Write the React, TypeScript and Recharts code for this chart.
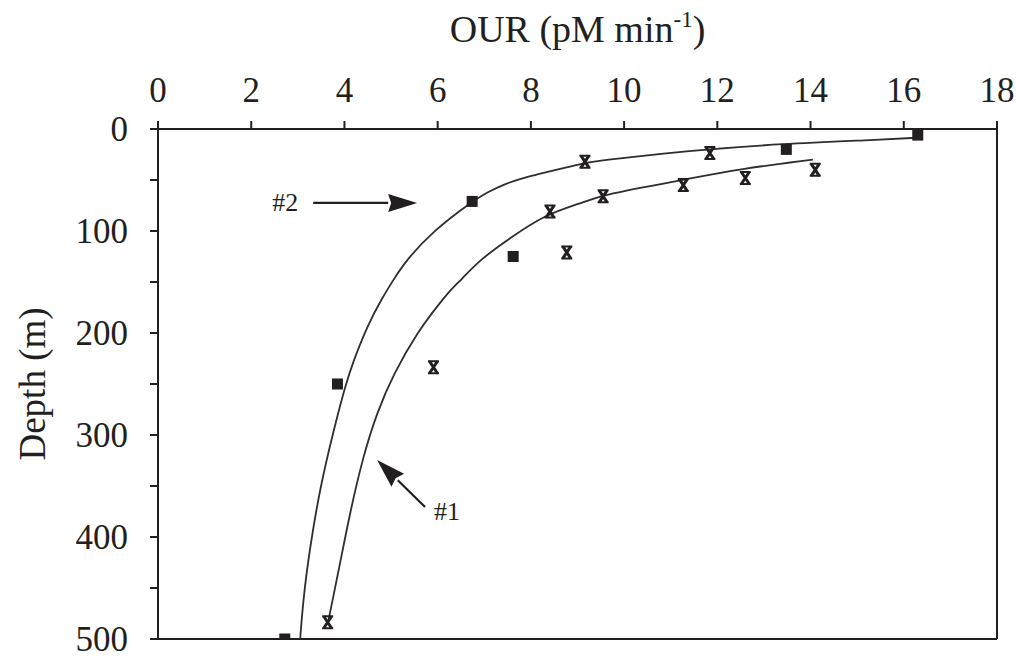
import React from 'react';
import { ComposedChart, XAxis, YAxis, Line, Scatter, ReferenceLine, ReferenceDot } from 'recharts';

// ---- axis ticks ----
const xTicks = [0, 2, 4, 6, 8, 10, 12, 14, 16, 18];
const yTicks = [0, 50, 100, 150, 200, 250, 300, 350, 400, 450, 500];

// ---- measured points (squares) ----
const squareOUR = [16.3, 13.48, 6.74, 7.62, 3.85, 2.72];
const squareDepth = [6, 20, 71, 125, 250, 500];

// ---- measured points (crosses) ----
const crossOUR = [11.84, 9.16, 14.1, 12.6, 11.27, 9.55, 8.41, 8.77, 5.91, 3.64];
const crossDepth = [23.5, 32, 40, 48, 55, 66, 81, 121, 233.6, 483.6];

// ---- fitted curve #1 ----
const curve1OUR = [3.66, 3.91, 4.12, 4.4, 4.69, 5.05, 5.6, 5.99, 6.27, 6.5, 6.91, 7.55, 8.3, 9.06, 9.52, 10.56, 11.25, 12.5, 14.05];
const curve1Depth = [481, 425, 376, 321, 279, 240, 197, 174, 158, 148, 128, 107, 84, 73, 65, 56, 50, 39, 30];

// ---- fitted curve #2 ----
const curve2OUR = [3.05, 3.12, 3.26, 3.48, 3.77, 4.03, 4.18, 4.5, 4.83, 5.05, 5.3, 5.9, 6.74, 7.09, 7.44, 7.8, 8.16, 8.52, 9.12, 9.59, 10.56, 11.5, 13.35, 15.5, 16.3];
const curve2Depth = [500, 459, 410, 351, 295, 250, 229, 192, 164, 148, 130, 100, 71, 61.5, 54, 48.3, 44.4, 40.2, 33.6, 30.4, 25.5, 21, 14.5, 10.5, 8.5];

// ---- annotations ----
const label2 = { text: '#2', our: 2.73, depth: 71.5 };
const arrow2 = { our: 5.56, depth: 72.5 };
const label1 = { text: '#1', our: 6.2, depth: 374.5 };
const arrow1 = { our: 4.7, depth: 324.5 };

const zip = (a: number[], b: number[]) => a.map((v, i) => ({ our: v, depth: b[i] }));
const squareData = zip(squareOUR, squareDepth);
const crossData = zip(crossOUR, crossDepth);
const curve1Data = zip(curve1OUR, curve1Depth);
const curve2Data = zip(curve2OUR, curve2Depth);

const INK = '#231f20';
const FONT = '"Liberation Serif", "Times New Roman", serif';

const SquareShape = (p: any) => {
  const s = 11;
  return <rect x={p.cx - s / 2} y={p.cy - s / 2} width={s} height={s} fill={INK} />;
};

const CrossShape = (p: any) => {
  const { cx, cy } = p;
  return (
    <g stroke={INK} fill="none">
      <path strokeWidth={2} d={`M${cx - 5.5},${cy - 6}L${cx + 5.5},${cy - 6}M${cx - 5.5},${cy + 6}L${cx + 5.5},${cy + 6}`} />
      <path strokeWidth={3} d={`M${cx - 4},${cy - 6}L${cx + 4},${cy + 6}M${cx + 4},${cy - 6}L${cx - 4},${cy + 6}`} />
    </g>
  );
};

const TextShape = (text: string) => (p: any) => (
  <text x={p.cx} y={p.cy} dy={9} textAnchor="middle" fontFamily={FONT} fontSize={26} fill={INK}>
    {text}
  </text>
);

// arrow drawn from tip, tail offset in pixels
const ArrowShape = (dx: number, dy: number) => (p: any) => {
  const { cx, cy } = p;
  const len = Math.sqrt(dx * dx + dy * dy);
  const ux = dx / len;
  const uy = dy / len;
  const hl = 29;
  const hw = 9;
  const bx = cx + ux * hl;
  const by = cy + uy * hl;
  const px = -uy;
  const py = ux;
  return (
    <g>
      <line x1={bx} y1={by} x2={cx + dx} y2={cy + dy} stroke={INK} strokeWidth={2.2} />
      <polygon
        points={`${cx},${cy} ${bx + px * hw},${by + py * hw} ${bx - ux * 3},${by - uy * 3} ${bx - px * hw},${by - py * hw}`}
        fill={INK}
      />
    </g>
  );
};

const XTitle = (props: any) => {
  const vb = props.viewBox || { x: 0, y: 0, width: 0, height: 0 };
  const cx = vb.x + vb.width / 2;
  return (
    <text x={cx} y={42} textAnchor="middle" fontFamily={FONT} fontSize={38} fill={INK}>
      OUR (pM min
      <tspan dy={-15} fontSize={23}>-1</tspan>
      <tspan dy={15}>)</tspan>
    </text>
  );
};

const YTitle = (props: any) => {
  const vb = props.viewBox || { x: 0, y: 0, width: 0, height: 0 };
  const cy = vb.y + vb.height / 2;
  const x = 32;
  return (
    <text
      x={x}
      y={cy}
      transform={`rotate(-90 ${x} ${cy})`}
      textAnchor="middle"
      dominantBaseline="central"
      fontFamily={FONT}
      fontSize={37}
      fill={INK}
    >
      Depth (m)
    </text>
  );
};

export default function App() {
  return (
    <div style={{ position: 'absolute', left: 0, top: 0, background: '#fff' }}>
      <ComposedChart
        width={1017}
        height={659}
        margin={{ top: 0, right: 20, bottom: 20, left: 0 }}
        style={{ fontFamily: FONT }}
      >
        <XAxis
          xAxisId="x"
          type="number"
          dataKey="our"
          orientation="top"
          domain={[0, 18]}
          ticks={xTicks}
          allowDataOverflow
          height={129}
          interval={0}
          tickSize={8}
          tickMargin={19}
          stroke={INK}
          strokeWidth={2}
          tick={{ fill: INK, fontSize: 35, fontFamily: FONT }}
          label={<XTitle />}
        />
        <YAxis
          yAxisId="y"
          type="number"
          dataKey="depth"
          reversed
          domain={[0, 500]}
          ticks={yTicks}
          allowDataOverflow
          width={158}
          interval={0}
          tickSize={8}
          tickMargin={22}
          stroke={INK}
          strokeWidth={2}
          tickFormatter={(v: number) => (v % 100 === 0 ? String(v) : '')}
          tick={{ fill: INK, fontSize: 35, fontFamily: FONT }}
          label={<YTitle />}
        />
        <ReferenceLine xAxisId="x" yAxisId="y" x={18} stroke={INK} strokeWidth={2} />
        <ReferenceLine xAxisId="x" yAxisId="y" y={500} stroke={INK} strokeWidth={2} />

        <Line
          xAxisId="x"
          yAxisId="y"
          data={curve2Data}
          dataKey="depth"
          type="basis"
          stroke="#2e2e2e"
          strokeWidth={1.8}
          dot={false}
          activeDot={false}
          isAnimationActive={false}
        />
        <Line
          xAxisId="x"
          yAxisId="y"
          data={curve1Data}
          dataKey="depth"
          type="basis"
          stroke="#2e2e2e"
          strokeWidth={1.8}
          dot={false}
          activeDot={false}
          isAnimationActive={false}
        />
        <Scatter xAxisId="x" yAxisId="y" data={squareData} shape={SquareShape} isAnimationActive={false} />
        <Scatter xAxisId="x" yAxisId="y" data={crossData} shape={CrossShape} isAnimationActive={false} />

        <ReferenceDot xAxisId="x" yAxisId="y" x={label2.our} y={label2.depth} shape={TextShape(label2.text)} />
        <ReferenceDot xAxisId="x" yAxisId="y" x={arrow2.our} y={arrow2.depth} shape={ArrowShape(-104, 0)} />
        <ReferenceDot xAxisId="x" yAxisId="y" x={label1.our} y={label1.depth} shape={TextShape(label1.text)} />
        <ReferenceDot xAxisId="x" yAxisId="y" x={arrow1.our} y={arrow1.depth} shape={ArrowShape(48, 47)} />
      </ComposedChart>
    </div>
  );
}
